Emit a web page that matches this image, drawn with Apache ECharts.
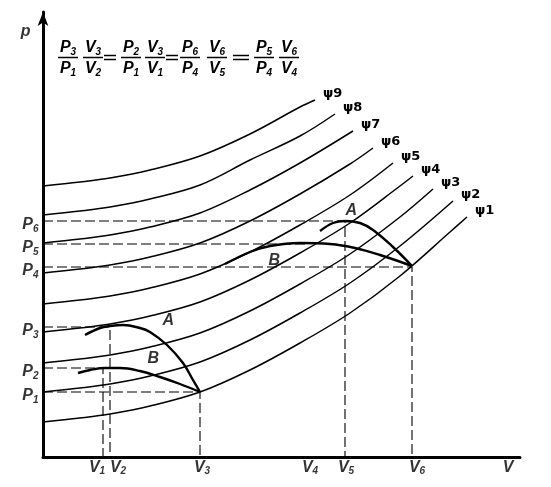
<!DOCTYPE html>
<html><head><meta charset="utf-8">
<script src="https://cdn.jsdelivr.net/npm/echarts@6/dist/echarts.min.js"></script>
<style>html,body{margin:0;background:#fff}#c{width:551px;height:487px}</style>
</head><body><div id="c"></div>
<script>
// ---- data (x = volume units, y = pressure units) ----
const psi1 = [[0,35],[37,39],[67,43],[107,51],[157,65],[207,87],[257,114],[307,144],[357,181],[407,225],[424,240]];
const psi2 = [[0,65],[37,69],[67,73],[107,81],[157,95],[207,117],[257,144],[307,174],[357,211],[410,256]];
const psi3 = [[0,94],[37,98],[67,102],[107,110],[157,124],[207,146],[257,173],[307,203],[357,240],[390,268]];
const psi4 = [[0,125],[37,129],[67,133],[107,141],[157,155],[207,177],[257,204],[307,234],[357,271],[370,281]];
const psi5 = [[0,153],[37,157],[67,161],[107,169],[157,183],[207,205],[257,232],[307,262],[350,294]];
const psi6 = [[0,184],[37,188],[67,192],[107,200],[157,214],[207,236],[257,263],[307,293],[330,309]];
const psi7 = [[0,214],[37,218],[67,222],[107,230],[157,244],[207,267],[257,294],[310,326]];
const psi8 = [[0,242],[37,246],[67,250],[107,258],[157,272],[207,297],[257,321],[292,343]];
const psi9 = [[0,271],[37,275],[67,279],[107,287],[157,301],[207,323],[257,350],[272,357]];
const psiNames = ['ψ1','ψ2','ψ3','ψ4','ψ5','ψ6','ψ7','ψ8','ψ9'];

const curveA1 = [[42,122],[57,129],[67,131],[80,132],[97,129],[107,125],[124,112],[140,94],[150,77],[157,65]];
const curveB1 = [[35,84],[47,87],[62,89],[77,89],[97,86],[117,80],[137,73],[157,65]];
const curveA2 = [[277,226],[290,234],[302,236],[317,234],[330,227],[350,210],[369,191]];
const curveB2 = [[182,193],[207,205],[227,211],[257,214],[287,213],[312,209],[337,202],[369,191]];

const vNames = ['V1','V2','V3','V4','V5','V6'];
const vValues = [60, 67, 157, 265, 302, 369];
const pNames = ['P1','P2','P3','P4','P5','P6'];
const pValues = [65, 89, 130, 190, 213, 236];
// guide: [pressure index, volume index, draw vertical]
const guides = [[0,2,true],[1,0,true],[2,1,true],[3,5,true],[4,3,false],[5,4,true]];

const formulaNum = ['P3','V3','P2','V3','P6','V6','P5','V6'];
const formulaDen = ['P1','V2','P1','V1','P4','V5','P4','V4'];

// ---- styles ----
const FONT = "'Liberation Sans Narrow','Liberation Sans',sans-serif";
const rich = {
  m: {fontSize: 16, fontStyle: 'italic', fontWeight: 'bold', fontFamily: FONT, color: '#000', lineHeight: 18},
  s: {fontSize: 10, fontStyle: 'italic', fontWeight: 'bold', fontFamily: FONT, color: '#000', lineHeight: 11, verticalAlign: 'bottom', padding:[7,0,0,0]}
};
const sub = t => '{m|' + t[0] + '}{s|' + t.slice(1) + '}';

const series = [];
const psis = [psi1,psi2,psi3,psi4,psi5,psi6,psi7,psi8,psi9];
psis.forEach((d,i) => {
  series.push({
    type:'line', data:d, smooth:0.35, symbol:'none', clip:false,
    lineStyle:{color:'#000', width:1.5},
    endLabel:{show:true, formatter: psiNames[i], offset:[0,-6], color:'#000',
      fontSize:13, fontWeight:'bold', fontFamily:"'DejaVu Sans',sans-serif"}
  });
});
[curveA1, curveB1, curveA2, curveB2].forEach(d => {
  series.push({type:'line', data:d, smooth:0.4, symbol:'none', clip:false,
    lineStyle:{color:'#000', width:2.4}});
});
guides.forEach(g => {
  const p = pValues[g[0]], v = vValues[g[1]];
  const d = [[0,p],[v,p]];
  if (g[2]) d.push([v,0]);
  series.push({type:'line', data:d, symbol:'none', clip:false,
    lineStyle:{color:'#000', width:1.1, type:[10,4]}});
});
// axis tick labels and curve letters
const vOff = [[-6,0],[8,0],[2,0],[2,0],[1,0],[5,0]];
const lab = (v, pos, dist, off, txt) => ({value:v, label:{show:true, position:pos, distance:dist, offset:off, formatter:txt, rich, color:'#000'}});
series.push({
  type:'scatter', symbolSize:1, itemStyle:{color:'transparent'}, clip:false,
  data: vNames.map((n,i) => lab([vValues[i],0], 'bottom', 1, vOff[i], sub(n)))
    .concat([lab([465,0], 'bottom', 1, [0,0], '{m|V}')])
    .concat(pNames.map((n,i) => lab([0,pValues[i]], 'left', 4, [0,4], sub(n))))
    .concat([lab([0,425], 'left', 12, [0,0], '{m|p}')])
    .concat([
      lab([119,131], 'right', 0, [0,-5], '{m|A}'),
      lab([104,95], 'right', 0, [0,-3], '{m|B}'),
      lab([304,246], 'right', 0, [-2,0], '{m|A}'),
      lab([225,200], 'right', 0, [0,4], '{m|B}')
    ])
});

// formula graphic
const fracX = [68,93,131,155,190,217,264,289];
const eqX = [110,172,241];
const graphic = [];
fracX.forEach((x,i) => {
  graphic.push({type:'text', x:x, y:48, style:{text: sub(formulaNum[i]), rich, align:'center', verticalAlign:'middle'}});
  graphic.push({type:'text', x:x, y:69, style:{text: sub(formulaDen[i]), rich, align:'center', verticalAlign:'middle'}});
  graphic.push({type:'line', shape:{x1:x-10, y1:57.5, x2:x+10, y2:57.5}, style:{stroke:'#000', lineWidth:1.5}});
});
eqX.forEach((x,i) => {
  const w = i === 2 ? 8 : 6;
  graphic.push({type:'line', shape:{x1:x-w, y1:55.5, x2:x+w, y2:55.5}, style:{stroke:'#000', lineWidth:1.5}});
  graphic.push({type:'line', shape:{x1:x-w, y1:59.5, x2:x+w, y2:59.5}, style:{stroke:'#000', lineWidth:1.5}});
});

const chart = echarts.init(document.getElementById('c'));
chart.setOption({
  animation:false,
  backgroundColor:'#fff',
  grid:{left:43, right:31, top:12, bottom:30},
  xAxis:{type:'value', min:0, max:477, axisLine:{show:true, onZero:false, lineStyle:{color:'#000', width:3}},
    axisTick:{show:false}, axisLabel:{show:false}, splitLine:{show:false}},
  yAxis:{type:'value', min:0, max:445, axisLine:{show:true, onZero:false, symbol:['none','arrow'], symbolSize:[8,14],
    lineStyle:{color:'#000', width:3}},
    axisTick:{show:false}, axisLabel:{show:false}, splitLine:{show:false}},
  series,
  graphic
});
</script></body></html>
